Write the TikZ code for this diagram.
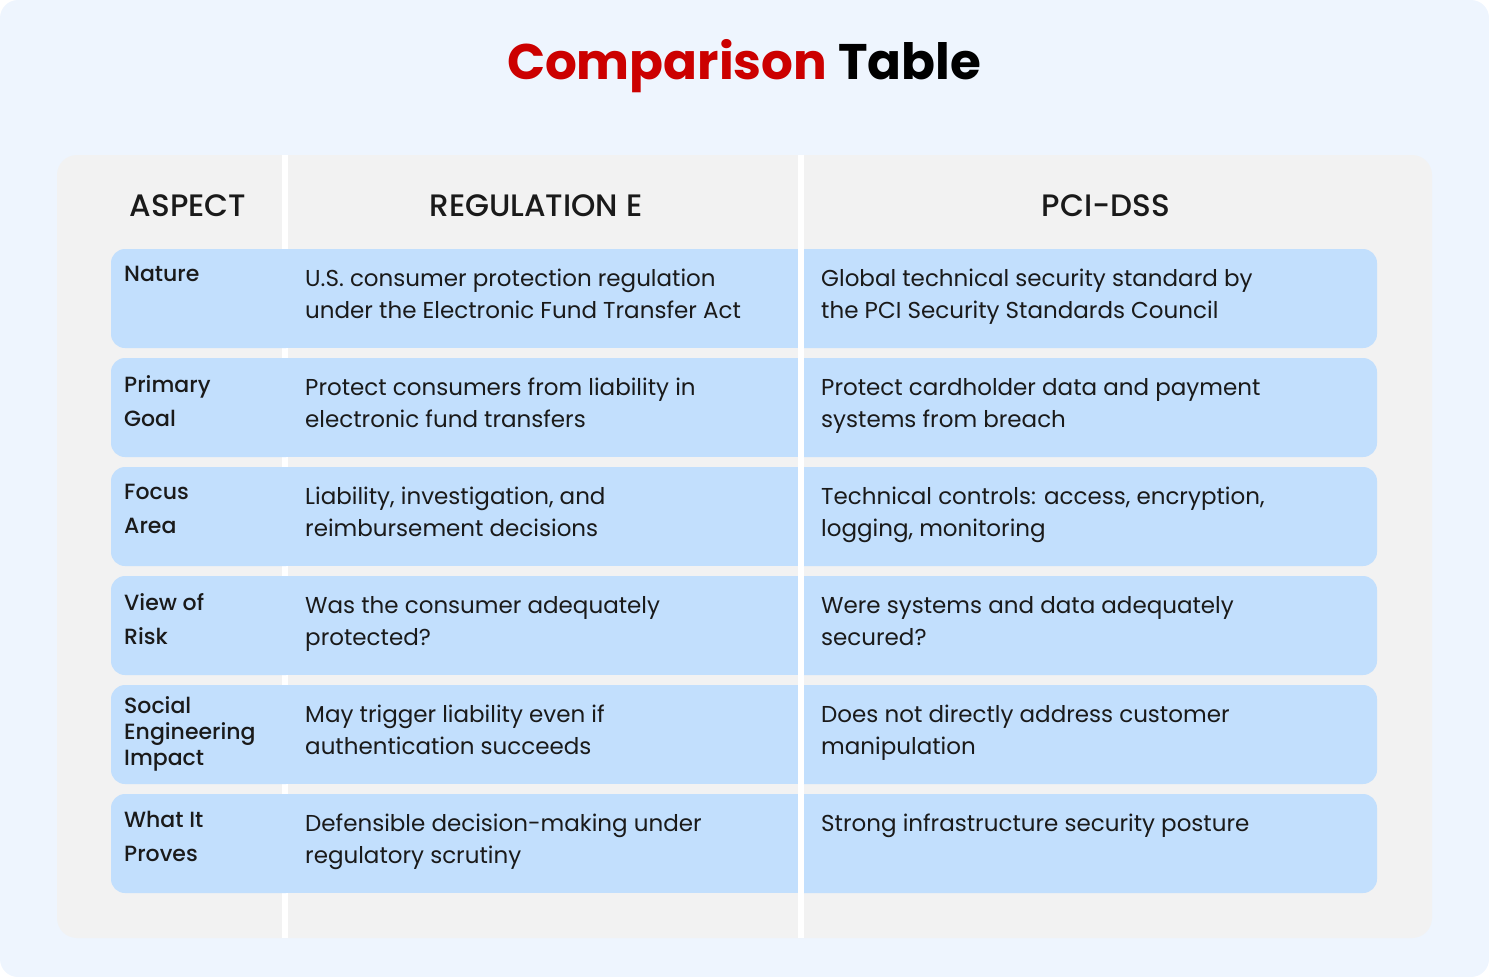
\documentclass[tikz,border=0pt]{standalone}
\usepackage{fontspec}
\setmainfont{Poppins}
\newfontfamily\popmed{Poppins Medium}
\newfontfamily\popsb{Poppins SemiBold}
\definecolor{bgc}{HTML}{EEF5FE}
\definecolor{panel}{HTML}{F2F2F2}
\definecolor{rowc}{HTML}{C2DFFD}
\definecolor{redc}{HTML}{CC0000}
\definecolor{txt}{HTML}{1A1A1A}
\begin{document}
\begin{tikzpicture}[x=1pt,y=-1pt,
  body/.style={anchor=north west,align=left,font=\fontsize{23}{32}\selectfont,text=txt,inner sep=0pt},
  lab/.style={anchor=north west,align=left,font=\popmed\fontsize{22}{34}\selectfont,text=txt,inner sep=0pt},
  head/.style={font=\popmed\fontsize{31}{36}\selectfont,text=txt,inner sep=0pt}]
\useasboundingbox (0,0) rectangle (1489,977);
\fill[bgc,rounded corners=18pt] (0,0) rectangle (1489,977);
\fill[panel,rounded corners=20pt] (57,155) rectangle (1432,938);
\fill[white] (282,155) rectangle (288,938);
\fill[white] (798,155) rectangle (804,938);
\node[font=\bfseries\fontsize{50}{56}\selectfont,inner sep=0pt] (title) at (744,66) {\textcolor{redc}{Comparison} Table};
\node[head] (h1) at (188,206) {ASPECT};
\node[head] (h2) at (536,206) {REGULATION E};
\node[head] (h3) at (1106,206) {PCI-DSS};
\foreach \i/\a/\b/\c [count=\k from 0] in {
 {Nature}/{U.S. consumer protection regulation\\under the Electronic Fund Transfer Act}/{Global technical security standard by\\the PCI Security Standards Council},
 {Primary\\Goal}/{Protect consumers from liability in\\electronic fund transfers}/{Protect cardholder data and payment\\systems from breach},
 {Focus\\Area}/{Liability, investigation, and\\reimbursement decisions}/{Technical controls: access, encryption,\\logging, monitoring},
 {View of\\Risk}/{Was the consumer adequately\\protected?}/{Were systems and data adequately\\secured?},
 {Social\\Engineering\\Impact}/{May trigger liability even if\\authentication succeeds}/{Does not directly address customer\\manipulation},
 {What It\\Proves}/{Defensible decision-making under\\regulatory scrutiny}/{Strong infrastructure security posture}} {
  \pgfmathsetmacro\yt{249+109*\k}
  \fill[rowc,rounded corners=14pt] (111,\yt) rectangle (300,\yt+99);
  \fill[rowc] (140,\yt) rectangle (282,\yt+99);
  \fill[rowc] (288,\yt) rectangle (798,\yt+99);
  \fill[rowc,rounded corners=14pt] (790,\yt) rectangle (1377,\yt+99);
  \fill[white] (798,\yt) rectangle (804,\yt+99);
  \node[body] (b\k) at (305,\yt+20) {\a};
  \node[body] (c\k) at (821,\yt+20) {\b};
}
\node[lab] (l0) at (124,266) {Nature};
\node[lab] (l1) at (124,375) {Primary\\Goal};
\node[lab] (l2) at (124,484) {Focus\\Area};
\node[lab] (l3) at (124,593) {View of\\Risk};
\node[lab,font=\popmed\fontsize{22}{26}\selectfont] (l4) at (124,696) {Social\\Engineering\\Impact};
\node[lab] (l5) at (124,811) {What It\\Proves};
\end{tikzpicture}
\end{document}
